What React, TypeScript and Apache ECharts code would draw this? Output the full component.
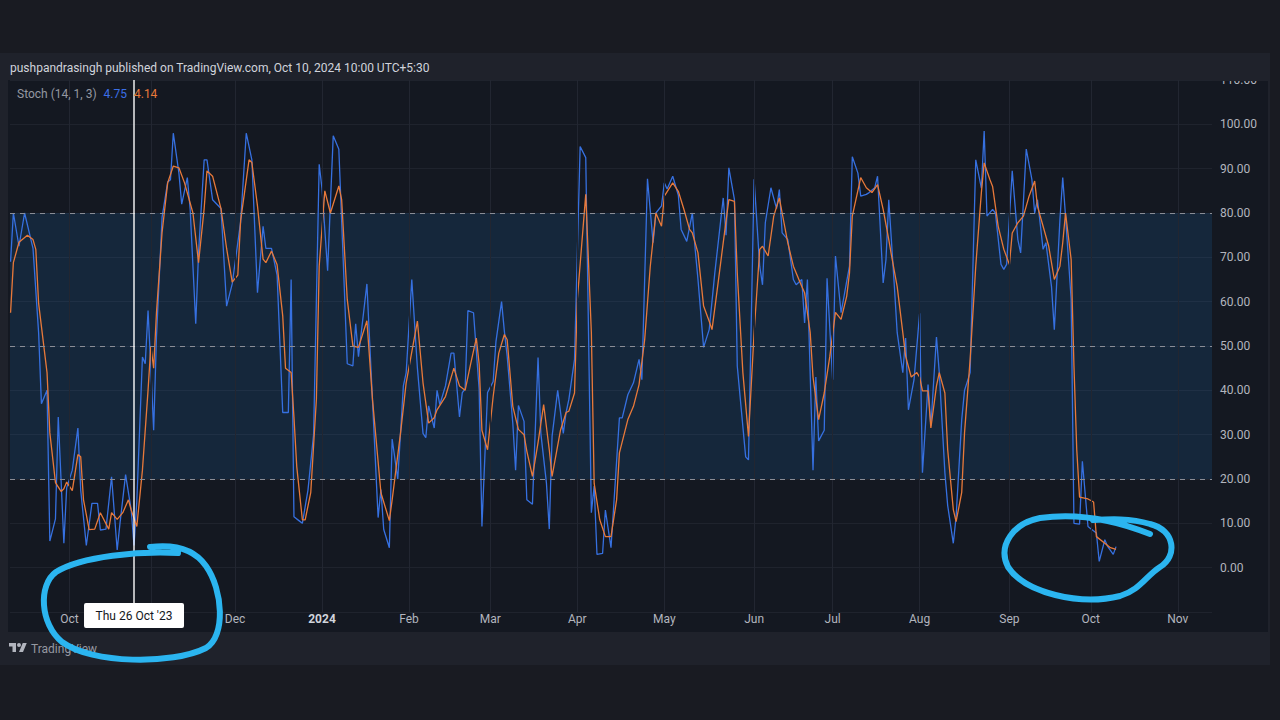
import React, { useEffect, useRef } from "react";
import * as echarts from "echarts";

// ---------- data ----------
const DAY_MS = 86400000;
const BASE = Date.UTC(2024, 0, 1); // day 0 = 2024-01-01
const toTs = (d: number) => BASE + d * DAY_MS;

// visible time window (days relative to 2024-01-01)
const X_MIN_DAY = -111.2;
const X_MAX_DAY = 317.2;

// %K (blue) — trading days (days since 2024-01-01) and values
const kDays = [
  -111, -110, -108, -106, -103, -101, -100, -98, -97, -95,
  -94, -92, -91, -89, -87, -86, -84, -82, -80, -79,
  -77, -75, -73, -72, -70, -68, -67, -66, -64, -63,
  -62, -61, -60, -59, -57, -55, -54, -53, -51, -50,
  -48, -47, -45, -44, -42, -41, -39, -36, -34, -32,
  -29, -27, -25, -23, -21, -20, -18, -16, -14, -12,
  -11, -10, -8, -7, -5, -3, -1, 0, 2, 4,
  6, 9, 11, 12, 13, 16, 20, 21, 22, 24,
  25, 27, 29, 30, 32, 34, 36, 37, 38, 40,
  41, 42, 44, 46, 47, 49, 50, 51, 52, 54,
  56, 57, 59, 61, 62, 64, 65, 66, 68, 69,
  70, 72, 73, 75, 77, 78, 80, 81, 82, 84,
  86, 87, 88, 90, 92, 94, 96, 97, 98, 100,
  101, 103, 106, 107, 109, 111, 113, 114, 116, 118,
  119, 121, 122, 123, 125, 127, 128, 130, 132, 133,
  134, 136, 138, 140, 143, 144, 145, 147, 148, 151,
  152, 154, 156, 157, 158, 160, 162, 163, 164, 166,
  168, 169, 171, 172, 173, 175, 176, 177, 179, 180,
  182, 183, 185, 187, 188, 189, 191, 192, 194, 195,
  197, 198, 200, 201, 202, 204, 205, 207, 208, 209,
  211, 213, 214, 216, 217, 219, 220, 222, 223, 225,
  226, 228, 229, 231, 233, 235, 236, 237, 239, 240,
  242, 243, 244, 246, 248, 249, 251, 253, 254, 255,
  257, 258, 260, 261, 263, 264, 265, 267, 268, 270,
  271, 273, 274, 276, 277, 279, 280, 282, 283,
];
const kValues = [
  69, 80, 72.5, 80, 72, 53, 37, 40, 6, 11,
  34, 5.5, 18, 22, 31.5, 17.5, 5, 14.5, 14.5, 8.5,
  8.7, 20.5, 4, 10, 21, 13, 5, 15, 47.5, 46,
  58, 45, 31, 52, 79, 87, 87.5, 98, 89, 82,
  88, 81, 55, 71, 92, 92, 83, 81, 59, 64,
  78, 98, 92, 62, 77, 72, 72, 66, 35, 35,
  65, 11.5, 10.5, 10, 17.5, 30, 91, 85.5, 67, 97.4,
  94.4, 46, 45.5, 55, 47.6, 64, 11.3, 17.6, 8.6, 4.5,
  29, 20, 41, 44, 65, 45, 30.3, 29.3, 36.5, 31.5,
  40, 36.8, 41, 48.4, 48.4, 34, 39.5, 40.3, 58, 57.5,
  40.3, 9.3, 39.5, 42, 51, 60, 53.3, 47.7, 32.6, 22,
  36.6, 33, 15.3, 14.3, 47.4, 30.3, 19, 8.7, 29.6, 40,
  30.3, 35, 38, 47, 95, 92.5, 12.4, 18.4, 3, 3.2,
  13, 4.5, 33.8, 33.8, 39, 41.7, 47, 42.4, 87.7, 73.3,
  80, 81.6, 86.8, 85.4, 88.3, 84, 76.3, 73.6, 80, 71.8,
  65, 49.7, 53.7, 66.5, 83.4, 75, 90.2, 83, 45.5, 25,
  24.3, 87.6, 68, 63.8, 77.8, 85.7, 81, 85.3, 75.5, 74,
  65, 63.8, 65, 55.2, 65, 22, 43, 28.6, 31, 65.3,
  42.4, 70.3, 57.5, 64.6, 68, 92.7, 89, 83.8, 84.2, 84.6,
  85.7, 88.3, 64.2, 69.5, 83, 63.4, 53, 44, 51.8, 35.6,
  42.4, 57.4, 21.4, 41.3, 32, 52, 44, 21.4, 14, 5.5,
  11.5, 33.4, 40, 44, 92, 85.6, 98.5, 79.3, 80.8, 80,
  68.4, 67.3, 68.4, 89.5, 74, 71, 94.4, 87.6, 80, 83,
  71.8, 73.3, 63.4, 53.7, 78.5, 88, 79.3, 60.5, 10, 9.8,
  24, 9.3, 8.8, 7.8, 1.4, 6.3, 4.8, 3, 4.75,
];

// %D (orange) — trading days (days since 2024-01-01) and values
const dDays = [
  -111, -110, -108, -105, -103, -102, -101, -98, -97, -95,
  -93, -92, -91, -89, -87, -86, -85, -83, -81, -79,
  -76, -75, -73, -71, -69, -68, -66, -64, -62, -61,
  -60, -59, -57, -55, -53, -51, -49, -46, -44, -42,
  -41, -39, -36, -34, -32, -30, -29, -26, -25, -23,
  -21, -20, -18, -16, -14, -13, -11, -10, -9, -7,
  -6, -4, -2, -1, 1, 3, 6, 7, 9, 11,
  13, 16, 18, 21, 24, 25, 28, 30, 34, 36,
  38, 40, 41, 44, 47, 49, 51, 53, 55, 56,
  57, 59, 61, 63, 65, 66, 68, 70, 72, 73,
  75, 77, 79, 81, 82, 85, 87, 88, 90, 91,
  94, 96, 97, 99, 101, 103, 105, 106, 109, 111,
  113, 115, 117, 119, 121, 122, 125, 127, 129, 131,
  132, 134, 136, 138, 139, 141, 143, 145, 147, 148,
  150, 152, 154, 156, 157, 159, 161, 163, 164, 166,
  168, 171, 172, 174, 175, 177, 179, 181, 183, 185,
  187, 188, 189, 192, 194, 196, 198, 200, 202, 203,
  205, 207, 208, 210, 212, 213, 214, 216, 217, 219,
  220, 222, 223, 225, 226, 228, 229, 231, 233, 235,
  236, 238, 239, 241, 243, 245, 246, 248, 250, 252,
  254, 255, 257, 259, 261, 263, 264, 265, 267, 268,
  269, 270, 273, 275, 276, 279, 281, 283,
];
const dValues = [
  57.5, 68.8, 73.4, 75, 74, 71.8, 59.6, 44, 30.4, 19.2,
  17.2, 17.8, 19.3, 17.4, 25.5, 25, 15.3, 8.6, 8.7, 12.4,
  8.7, 12.4, 10.9, 12.4, 15.3, 13, 9.3, 22, 40, 50,
  45, 57.5, 75.6, 86.8, 90.6, 90.2, 86.8, 80, 68.8, 81,
  89.5, 88.3, 81, 72, 64.4, 66, 78.3, 92, 91.4, 81.6,
  69.6, 68.8, 71.4, 68.3, 56.8, 45, 44, 34, 22.8, 10.8,
  10.8, 17, 38, 68, 85, 80, 86.1, 83, 60.5, 50,
  49.7, 55.7, 37.9, 16.9, 10.6, 15.3, 30.4, 41.7, 55.6, 41.7,
  32.6, 33.8, 35.6, 38.6, 45, 41, 40, 46, 51.8, 46,
  31, 26.6, 38.6, 48.4, 52.6, 51.4, 36.4, 31.2, 30, 26.3,
  20.6, 28.2, 36.8, 26.6, 20.6, 31, 35, 35.3, 39.4, 60.5,
  84.2, 53, 19, 10.8, 7, 7, 15.3, 25.9, 33.4, 36.4,
  41.3, 51.4, 68, 80, 77, 83.8, 86.8, 84.9, 80.8, 76.3,
  75.5, 71, 59, 55.6, 53.7, 63.4, 73.3, 83, 82.6, 66.5,
  44, 29.6, 53, 71.8, 72.5, 70.3, 79.3, 83.4, 80, 73.3,
  68, 63.4, 62, 53, 43, 33.4, 39.4, 47.7, 57.6, 56,
  61.2, 66.5, 79.3, 88, 85.7, 84.6, 86.4, 80.8, 74, 70.3,
  63.4, 53, 47.7, 43, 44, 43, 39.9, 39.9, 31.5, 41,
  44, 39.4, 26.6, 13.1, 10.4, 17, 30.4, 47, 68, 84.6,
  91.3, 87.6, 86, 77, 71.8, 68.4, 75.5, 77.8, 79.3, 83.8,
  87.2, 81.5, 77, 72.5, 65, 68, 73.3, 80, 69.5, 45.5,
  26.6, 15.9, 15.5, 14.8, 7, 5.5, 4.5, 4.14,
];

// vertical grid lines (first trading bar of each month)
const monthGridDates = [
  "2023-10-03", "2023-11-01", "2023-12-01", "2024-01-01", "2024-02-01",
  "2024-03-01", "2024-04-01", "2024-05-02", "2024-06-03", "2024-07-01",
  "2024-08-01", "2024-09-02", "2024-10-01", "2024-11-01",
];
// x-axis tick labels that are visible (Nov '23 sits under the cursor badge)
const xLabelDates = [
  "2023-10-03", "2023-12-01", "2024-01-01", "2024-02-01",
  "2024-03-01", "2024-04-01", "2024-05-02", "2024-06-03", "2024-07-01",
  "2024-08-01", "2024-09-02", "2024-10-01", "2024-11-01",
];
const xLabels = [
  "Oct", "Dec", "2024", "Feb", "Mar", "Apr", "May", "Jun", "Jul",
  "Aug", "Sep", "Oct", "Nov",
];

const levelLines = [20, 50, 80];
const bandRange = [20, 80];
const cursorDate = "2023-10-26";
const cursorLabel = "Thu 26 Oct '23";
const lastK = "4.75";
const lastD = "4.14";
const headerText =
  "pushpandrasingh published on TradingView.com, Oct 10, 2024 10:00 UTC+5:30";
const indicatorName = "Stoch (14, 1, 3)";

// ---------- styles ----------
const PAGE_BG = "#191b22";
const PANEL_BG = "#1f222b";
const PLOT_BG = "#141821";
const K_COLOR = "#3670e0";
const D_COLOR = "#e8793a";
const TEXT = "#b2b5be";
const LOOP = "#2bb5f0";
const FONT = "Roboto";

let shapesRegistered = false;
function registerShapes() {
  if (shapesRegistered) return;
  shapesRegistered = true;
  echarts.graphic.registerShape(
    "loopLeft",
    echarts.graphic.extendPath(
      "M178 553 C140 551 82 556 56 572 C38 585 40 624 62 642 C92 664 172 665 206 648 C226 636 223 590 206 566 C195 550 175 544 150 547",
      {}
    )
  );
  echarts.graphic.registerShape(
    "loopRight",
    echarts.graphic.extendPath(
      "M1150 534 C1120 522 1080 512 1040 518 C1014 523 997 545 1008 567 C1025 593 1080 606 1120 596 C1140 590 1146 576 1160 567 C1178 556 1175 530 1150 524 C1130 518 1110 519 1093 520",
      {}
    )
  );
  echarts.graphic.registerShape(
    "tvLogo",
    echarts.graphic.extendPath(
      "M14 22H7V11H0V4h14v18z M28 22h-8l7.5-18h8L28 22z M24 8a4 4 0 1 1-8 0a4 4 0 1 1 8 0z",
      {}
    )
  );
}

export default function App() {
  const ref = useRef<HTMLDivElement>(null);

  useEffect(() => {
    registerShapes();
    const el = ref.current as HTMLDivElement;
    const chart = echarts.init(el, null, { renderer: "svg" });

    const gridTs = monthGridDates.map((s) => Date.parse(s));
    const labelTs = xLabelDates.map((s) => Date.parse(s));
    const labelFor = (v: number) => {
      let best = -1;
      let bestDiff = Infinity;
      labelTs.forEach((t, i) => {
        const diff = Math.abs(t - v);
        if (diff < bestDiff) {
          bestDiff = diff;
          best = i;
        }
      });
      if (best < 0 || bestDiff > DAY_MS) return "";
      const lab = xLabels[best];
      return /^\d{4}$/.test(lab) ? "{y|" + lab + "}" : lab;
    };

    const kData = kDays.map((d, i) => [toTs(d), kValues[i]]);
    const dData = dDays.map((d, i) => [toTs(d), dValues[i]]);
    const cursorTs = Date.parse(cursorDate);

    const option: any = {
      animation: false,
      backgroundColor: PAGE_BG,
      textStyle: { fontFamily: FONT },
      grid: {
        left: 10,
        right: 68,
        top: 80,
        bottom: 108,
        outerBoundsMode: "none",
        containLabel: false,
      },
      xAxis: {
        type: "value",
        min: toTs(X_MIN_DAY),
        max: toTs(X_MAX_DAY),
        axisLine: { show: false },
        axisTick: { show: false },
        splitLine: { show: false },
        axisLabel: {
          customValues: labelTs,
          formatter: (v: number) => labelFor(v),
          color: TEXT,
          fontSize: 12,
          fontFamily: FONT,
          margin: 1,
          rich: {
            y: { color: "#d1d4dc", fontWeight: "bold", fontSize: 12, fontFamily: FONT },
          },
        },
      },
      yAxis: {
        type: "value",
        position: "right",
        min: -10,
        max: 110,
        interval: 10,
        axisLine: { show: false },
        axisTick: { show: false },
        splitLine: { show: true, lineStyle: { color: "#1f232d", width: 1 } },
        axisLabel: {
          color: TEXT,
          fontSize: 12,
          fontFamily: FONT,
          margin: 8,
          showMaxLabel: true,
          formatter: (v: number) => (v < 0 ? "" : v.toFixed(2)),
        },
      },
      series: [
        {
          name: "guides",
          type: "line",
          data: [],
          z: 1,
          silent: true,
          markArea: {
            silent: true,
            itemStyle: { color: "rgba(33,150,243,0.12)" },
            data: [[{ yAxis: bandRange[0] }, { yAxis: bandRange[1] }]],
          },
          markLine: {
            silent: true,
            symbol: ["none", "none"],
            label: { show: false },
            data: [
              ...gridTs.map((t) => ({
                xAxis: t,
                lineStyle: { color: "#222631", width: 1, type: "solid" },
              })),
              ...levelLines.map((v) => ({
                yAxis: v,
                lineStyle: { color: "#8a8d96", width: 1, type: [5, 5] },
              })),
            ],
          },
        },
        {
          name: "%K",
          type: "line",
          data: kData,
          showSymbol: false,
          symbol: "none",
          z: 3,
          silent: true,
          lineStyle: { color: K_COLOR, width: 1.3 },
        },
        {
          name: "%D",
          type: "line",
          data: dData,
          showSymbol: false,
          symbol: "none",
          z: 4,
          silent: true,
          lineStyle: { color: D_COLOR, width: 1.3 },
        },
        {
          name: "cursor",
          type: "line",
          data: [],
          z: 10,
          silent: true,
          markLine: {
            silent: true,
            symbol: ["none", "none"],
            label: { show: false },
            lineStyle: { color: "rgba(255,255,255,0.92)", width: 1.5, type: "solid" },
            data: [{ xAxis: cursorTs }],
          },
        },
      ],
    };

    chart.setOption(option);

    const cx = chart.convertToPixel({ xAxisIndex: 0 }, cursorTs) as number;

    const graphics: any[] = [
      {
        type: "rect",
        z: -20,
        silent: true,
        shape: { x: 0, y: 53, width: 1270, height: 612 },
        style: { fill: PANEL_BG },
      },
      {
        type: "rect",
        z: -19,
        silent: true,
        shape: { x: 8, y: 80, width: 1260, height: 552 },
        style: { fill: PLOT_BG },
      },
      {
        type: "rect",
        z: 50,
        silent: true,
        shape: { x: 1212, y: 53, width: 58, height: 28 },
        style: { fill: PANEL_BG },
      },
      {
        type: "text",
        z: 60,
        silent: true,
        style: {
          x: 10,
          y: 68,
          text: headerText,
          fill: "#d1d4dc",
          font: "12px " + FONT,
          verticalAlign: "middle",
          align: "left",
        },
      },
      {
        type: "text",
        z: 60,
        silent: true,
        style: {
          x: 17,
          y: 94,
          text: "{a|" + indicatorName + "}{k|" + lastK + "}{d|" + lastD + "}",
          font: "12px " + FONT,
          verticalAlign: "middle",
          align: "left",
          rich: {
            a: { fill: "#9598a1", fontSize: 12, fontFamily: FONT },
            k: { fill: "#3b6fe6", fontSize: 12, fontFamily: FONT, padding: [0, 0, 0, 7] },
            d: { fill: "#e8793a", fontSize: 12, fontFamily: FONT, padding: [0, 0, 0, 7] },
          },
        },
      },
      {
        type: "rect",
        z: 100,
        silent: true,
        shape: { x: cx - 50, y: 603, width: 100, height: 25, r: 2 },
        style: { fill: "#ffffff" },
      },
      {
        type: "text",
        z: 101,
        silent: true,
        style: {
          x: cx,
          y: 616,
          text: cursorLabel,
          fill: "#131722",
          font: "12px " + FONT,
          align: "center",
          verticalAlign: "middle",
        },
      },
      {
        type: "tvLogo",
        z: 60,
        silent: true,
        x: 9,
        y: 641,
        scaleX: 0.5,
        scaleY: 0.5,
        style: { fill: "#b2b5be" },
      },
      {
        type: "text",
        z: 60,
        silent: true,
        style: {
          x: 31,
          y: 649,
          text: "TradingView",
          fill: "#9598a1",
          font: "12px " + FONT,
          verticalAlign: "middle",
          align: "left",
        },
      },
      {
        type: "loopLeft",
        z: 120,
        silent: true,
        style: { fill: "none", stroke: LOOP, lineWidth: 6, lineCap: "round", lineJoin: "round" },
      },
      {
        type: "loopRight",
        z: 120,
        silent: true,
        style: { fill: "none", stroke: LOOP, lineWidth: 6, lineCap: "round", lineJoin: "round" },
      },
    ];

    chart.setOption({ graphic: graphics });

    return () => {
      chart.dispose();
    };
  }, []);

  return (
    <div
      ref={ref}
      style={{ position: "fixed", left: 0, top: 0, width: 1280, height: 720 }}
    />
  );
}
